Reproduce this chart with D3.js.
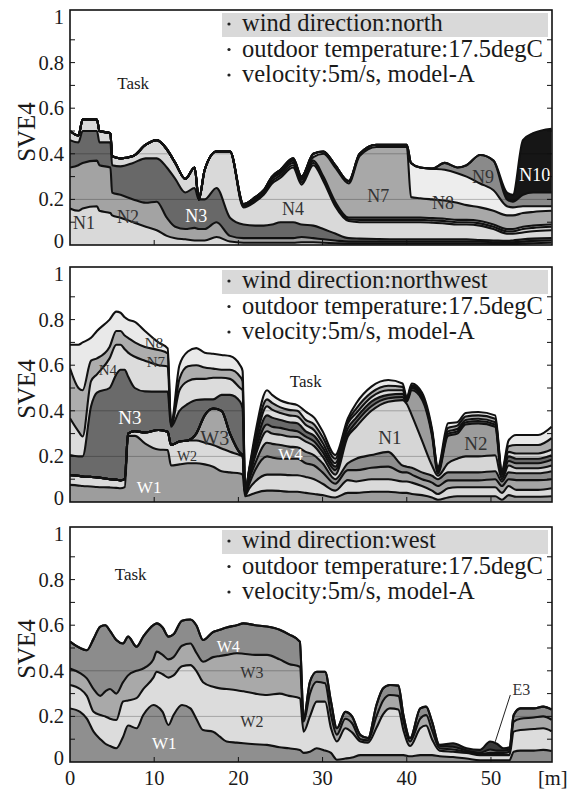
<!DOCTYPE html>
<html>
<head>
<meta charset="utf-8">
<script src="https://cdn.jsdelivr.net/npm/d3@7"></script>
<style>
  html, body { margin: 0; padding: 0; background: #fff; }
  svg { display: block; }
</style>
</head>
<body>
<svg id="chart" width="576" height="792"></svg>
<script>
// ---------- axis ticks ----------
const xTickValues = [0, 10, 20, 30, 40, 50];
const xTickLabels = ["0", "10", "20", "30", "40", "50"];
const yTickValues = [0, 0.2, 0.4, 0.6, 0.8, 1];
const yTickLabels = ["0", "0.2", "0.4", "0.6", "0.8", "1"];

// ---------- panel 1 : wind direction north (cumulative upper edge of each layer) ----------
const northNames = ["N1", "N2", "N3", "N4", "N5", "N6", "N7", "N8", "N9", "N10"];
const northX = [0, 1, 1.5, 3.2, 3.5, 4.8, 5.0, 6, 7.5, 9,
  10.3, 11.5, 12.5, 13.7, 14.8, 15.3, 16, 17.4, 19, 20.6,
  22, 23, 24, 25, 26.5, 27.5, 28.9, 30.1, 31.5, 33.1,
  34.4, 36.4, 38, 40.0, 40.5, 41.6, 43, 44.5, 46, 47.1,
  48.7, 50.3, 51.9, 52.6, 53.8, 55, 57.2];
const northN1 = [.16, .15, .16, .17, .15, .14, .13, .12, .10, .08,
  .065, .04, .03, .025, .02, .02, .02, .035, .015, .01,
  .01, .01, .01, .01, .01, .012, .012, .01, .008, .006,
  .006, .006, .006, .006, .006, .006, .006, .006, .006, .006,
  .006, .005, .005, .005, .006, .008, .01];
const northN2 = [.34, .35, .36, .37, .35, .34, .23, .22, .20, .185,
  .19, .12, .08, .07, .075, .07, .07, .10, .04, .03,
  .03, .03, .03, .03, .03, .035, .03, .025, .02, .015,
  .015, .015, .015, .015, .015, .015, .015, .015, .015, .015,
  .015, .012, .01, .012, .015, .018, .02];
const northN3 = [.46, .45, .50, .50, .45, .45, .35, .345, .36, .38,
  .38, .34, .29, .23, .25, .20, .20, .25, .12, .09,
  .085, .085, .09, .10, .10, .09, .085, .07, .05, .03,
  .028, .026, .025, .025, .025, .025, .025, .025, .025, .025,
  .022, .02, .018, .02, .025, .028, .03];
const northN4 = [.50, .48, .55, .55, .50, .49, .39, .38, .39, .44,
  .46, .42, .36, .29, .34, .20, .33, .41, .41, .165,
  .19, .22, .27, .295, .34, .265, .35, .28, .17, .105,
  .10, .10, .10, .10, .10, .10, .098, .095, .09, .09,
  .085, .07, .05, .05, .055, .06, .065];
const northN5 = [.50, .48, .55, .55, .50, .49, .39, .38, .39, .44,
  .46, .42, .36, .29, .34, .20, .33, .41, .41, .17,
  .197, .227, .28, .305, .35, .275, .36, .29, .18, .112,
  .11, .11, .11, .11, .11, .11, .108, .105, .10, .10,
  .095, .08, .06, .06, .07, .075, .08];
const northN6 = [.50, .48, .55, .55, .50, .49, .39, .38, .39, .44,
  .46, .42, .36, .29, .34, .20, .33, .41, .41, .175,
  .203, .233, .29, .315, .36, .285, .37, .30, .19, .12,
  .12, .12, .12, .12, .12, .12, .118, .115, .11, .11,
  .105, .09, .07, .07, .08, .085, .09];
const northN7 = [.50, .48, .55, .55, .50, .49, .39, .38, .39, .44,
  .46, .42, .36, .29, .34, .20, .33, .41, .41, .178,
  .207, .237, .296, .322, .37, .292, .385, .40, .34, .27,
  .39, .43, .43, .43, .21, .205, .20, .195, .185, .175,
  .165, .15, .13, .13, .14, .145, .15];
const northN8 = [.50, .48, .55, .55, .50, .49, .39, .38, .39, .44,
  .46, .42, .36, .29, .34, .20, .33, .41, .41, .18,
  .21, .24, .30, .33, .38, .30, .40, .41, .35, .28,
  .40, .44, .44, .44, .36, .34, .335, .33, .315, .30,
  .27, .24, .17, .165, .17, .17, .17];
const northN9 = [.50, .48, .55, .55, .50, .49, .39, .38, .39, .44,
  .46, .42, .36, .29, .34, .20, .33, .41, .41, .18,
  .21, .24, .30, .33, .38, .30, .40, .41, .35, .28,
  .40, .44, .44, .44, .36, .34, .335, .36, .34, .35,
  .395, .37, .20, .19, .22, .23, .23];
const northN10 = [.50, .48, .55, .55, .50, .49, .39, .38, .39, .44,
  .46, .42, .36, .29, .34, .20, .33, .41, .41, .18,
  .21, .24, .30, .33, .38, .30, .40, .41, .35, .28,
  .40, .44, .44, .44, .36, .34, .335, .36, .34, .35,
  .395, .37, .23, .22, .46, .49, .51];

// ---------- panel 2 : wind direction northwest ----------
const nwNames = ["W1", "W2", "W3", "W4", "N1", "N2", "N3", "N4", "N7", "N8"];
const nwX = [0, 1, 1.5, 2.5, 3.2, 4.7, 5.5, 6.0, 6.5, 6.9,
  7.7, 8.9, 10.5, 11.6, 12.0, 13.0, 14.0, 15.0, 16.0, 17.0,
  18.0, 19.0, 20.2, 20.5, 20.8, 21.3, 22, 23.4, 24, 25,
  26, 27, 28, 29, 30, 31.5, 33, 34, 35.8, 37.8,
  39.5, 40, 40.6, 41.8, 43, 43.7, 44.9, 46, 47, 48.5,
  50.5, 51.3, 52.1, 53, 55.6, 57.2];
const nwW1 = [.075, .072, .07, .068, .066, .064, .062, .06, .065, .29,
  .29, .257, .23, .228, .16, .165, .17, .17, .165, .155,
  .135, .13, .125, .12, .025, .03, .04, .05, .05, .048,
  .045, .045, .04, .035, .03, .02, .04, .04, .045, .045,
  .04, .04, .035, .03, .02, .01, .02, .025, .025, .025,
  .025, .01, .03, .023, .023, .025];
const nwW2 = [.118, .115, .112, .11, .108, .10, .098, .095, .10, .30,
  .31, .305, .316, .308, .25, .265, .27, .27, .26, .25,
  .235, .22, .205, .20, .03, .06, .09, .12, .12, .12,
  .118, .117, .11, .10, .08, .05, .096, .09, .10, .10,
  .09, .09, .085, .07, .05, .035, .06, .065, .065, .065,
  .065, .04, .07, .053, .053, .06];
const nwW3 = [.118, .115, .112, .11, .108, .10, .098, .095, .10, .30,
  .31, .305, .316, .308, .25, .265, .27, .30, .38, .41,
  .40, .30, .215, .205, .033, .08, .14, .20, .195, .19,
  .19, .19, .17, .16, .13, .08, .14, .14, .15, .155,
  .13, .13, .12, .10, .085, .07, .095, .095, .095, .095,
  .10, .07, .10, .096, .096, .10];
const nwW4 = [.118, .115, .112, .11, .108, .10, .098, .095, .10, .30,
  .31, .305, .316, .308, .25, .265, .27, .30, .38, .41,
  .40, .30, .215, .205, .036, .10, .17, .26, .255, .25,
  .243, .24, .22, .205, .17, .10, .17, .19, .206, .22,
  .16, .155, .15, .13, .115, .10, .13, .13, .13, .13,
  .135, .09, .13, .126, .126, .135];
const nwN1 = [.118, .115, .112, .11, .108, .10, .098, .095, .10, .30,
  .31, .305, .316, .308, .25, .265, .27, .30, .38, .41,
  .40, .30, .215, .205, .038, .11, .20, .31, .30, .295,
  .287, .285, .265, .245, .20, .12, .287, .33, .40, .44,
  .447, .43, .38, .27, .16, .115, .17, .19, .20, .20,
  .205, .10, .16, .148, .148, .16];
const nwN2 = [.118, .115, .112, .11, .108, .10, .098, .095, .10, .30,
  .31, .305, .316, .308, .25, .265, .27, .30, .38, .41,
  .40, .30, .215, .205, .04, .12, .22, .34, .33, .325,
  .316, .31, .287, .265, .22, .14, .30, .35, .42, .455,
  .46, .44, .49, .45, .29, .125, .29, .30, .34, .345,
  .33, .11, .18, .17, .17, .185];
const nwN3 = [.206, .20, .20, .42, .48, .50, .56, .58, .58, .55,
  .50, .485, .484, .484, .33, .40, .43, .447, .45, .45,
  .47, .47, .44, .41, .042, .13, .24, .38, .37, .36,
  .35, .345, .31, .29, .24, .155, .323, .37, .44, .47,
  .475, .445, .50, .46, .30, .133, .30, .31, .35, .355,
  .34, .12, .20, .19, .19, .205];
const nwN4 = [.367, .31, .287, .53, .56, .63, .69, .69, .67, .655,
  .637, .62, .60, .594, .335, .49, .53, .54, .54, .545,
  .545, .54, .50, .49, .044, .14, .26, .42, .405, .39,
  .38, .375, .338, .315, .26, .17, .345, .39, .46, .49,
  .49, .45, .505, .465, .305, .14, .31, .32, .36, .365,
  .35, .128, .22, .213, .213, .23];
const nwN7 = [.586, .50, .49, .62, .63, .68, .75, .75, .73, .72,
  .70, .68, .667, .652, .34, .54, .595, .60, .59, .585,
  .58, .58, .55, .53, .046, .145, .28, .45, .435, .415,
  .404, .40, .36, .34, .285, .19, .355, .41, .48, .51,
  .505, .455, .512, .47, .31, .148, .325, .335, .375, .38,
  .365, .135, .245, .25, .25, .28];
const nwN8 = [.69, .69, .70, .72, .75, .80, .835, .83, .81, .80,
  .79, .75, .70, .674, .345, .60, .66, .675, .655, .65,
  .645, .64, .60, .575, .048, .15, .30, .49, .47, .445,
  .433, .425, .396, .37, .31, .206, .367, .433, .506, .535,
  .52, .46, .52, .48, .32, .155, .345, .35, .39, .395,
  .38, .14, .27, .294, .294, .33];

// ---------- panel 3 : wind direction west ----------
const westNames = ["W1", "W2", "W3", "W4", "E3"];
const westX = [0, 1.2, 2, 2.8, 3.6, 4.2, 4.75, 5.5, 6.3, 6.9,
  7.9, 8.7, 9.9, 10.3, 11.0, 11.7, 12.3, 13.3, 14.3, 15.0,
  15.8, 17.0, 17.8, 18.6, 19.8, 20.6, 22, 23.4, 24.9, 26,
  27.3, 27.75, 28.5, 29.3, 30.3, 31.0, 31.7, 32.7, 33.5, 34.5,
  35.4, 36.4, 37.2, 38, 39, 39.6, 40.4, 41.6, 42.3, 43.0,
  43.9, 45.5, 47.1, 48.7, 49.9, 50.7, 51.5, 52.2, 52.7, 53.5,
  55.1, 56.2, 57.2];
const westW1 = [.235, .22, .19, .133, .10, .08, .07, .06, .11, .16,
  .148, .206, .25, .245, .22, .162, .206, .25, .235, .19,
  .14, .133, .111, .09, .085, .082, .078, .075, .065, .06,
  .053, .04, .045, .06, .05, .04, .01, .015, .02, .03,
  .03, .03, .03, .03, .03, .03, .025, .03, .03, .03,
  .025, .022, .015, .008, .008, .008, .008, .008, .045, .05,
  .05, .053, .048];
const westW2 = [.338, .32, .29, .22, .206, .20, .19, .184, .265, .27,
  .28, .32, .37, .396, .385, .37, .38, .42, .425, .40,
  .35, .33, .323, .32, .315, .31, .30, .294, .30, .29,
  .28, .133, .20, .265, .265, .148, .09, .148, .13, .09,
  .085, .15, .21, .235, .23, .14, .07, .148, .16, .10,
  .05, .045, .04, .03, .03, .03, .03, .03, .133, .14,
  .145, .148, .135];
const westW3 = [.41, .39, .367, .32, .29, .31, .32, .30, .35, .38,
  .40, .41, .45, .484, .47, .45, .46, .51, .52, .48,
  .44, .46, .465, .47, .477, .475, .47, .47, .45, .43,
  .418, .177, .30, .352, .345, .206, .12, .19, .17, .10,
  .095, .20, .27, .294, .29, .18, .09, .19, .206, .14,
  .06, .055, .045, .035, .04, .04, .04, .045, .177, .19,
  .195, .20, .185];
const westW4 = [.528, .50, .49, .54, .594, .60, .575, .535, .52, .55,
  .506, .55, .60, .608, .59, .55, .56, .62, .625, .60,
  .535, .57, .58, .59, .60, .608, .60, .594, .58, .56,
  .528, .19, .352, .396, .396, .265, .148, .22, .20, .118,
  .105, .25, .323, .338, .335, .206, .104, .235, .243, .177,
  .07, .067, .05, .04, .055, .05, .05, .055, .206, .235,
  .235, .243, .23];
const westE3 = [.528, .50, .49, .54, .594, .60, .575, .535, .52, .55,
  .506, .55, .60, .608, .59, .55, .56, .62, .625, .60,
  .535, .57, .58, .59, .60, .608, .60, .594, .58, .56,
  .528, .19, .352, .396, .396, .265, .148, .22, .20, .118,
  .105, .25, .323, .338, .335, .206, .104, .235, .243, .177,
  .075, .082, .06, .053, .09, .08, .06, .065, .206, .235,
  .235, .243, .23];

// ---------- panel configuration (layout and style) ----------
const panels = [
  {
    top: 10, bottom: 245, xs: northX,
    series: [northN1, northN2, northN3, northN4, northN5, northN6, northN7, northN8, northN9, northN10],
    names: northNames,
    fills: ["#d9d9d9", "#a3a3a3", "#686868", "#d9d9d9", "#cfcfcf", "#dedede", "#a8a8a8", "#ededed", "#8a8a8a", "#161616"],
    legend: "wind direction:north",
    task: [7.5, 0.71],
    labels: [
      {t: "N1", m: 1.66, v: 0.10, c: "#333", s: 18},
      {t: "N2", m: 6.9, v: 0.123, c: "#333", s: 18},
      {t: "N3", m: 15.0, v: 0.127, c: "#fff", s: 18},
      {t: "N4", m: 26.5, v: 0.158, c: "#333", s: 18},
      {t: "N7", m: 36.6, v: 0.215, c: "#333", s: 18},
      {t: "N8", m: 44.3, v: 0.184, c: "#333", s: 18},
      {t: "N9", m: 49.05, v: 0.298, c: "#333", s: 18},
      {t: "N10", m: 55.2, v: 0.307, c: "#fff", s: 18}
    ]
  },
  {
    top: 267, bottom: 502, xs: nwX,
    series: [nwW1, nwW2, nwW3, nwW4, nwN1, nwN2, nwN3, nwN4, nwN7, nwN8],
    names: nwNames,
    fills: ["#9d9d9d", "#dadada", "#a5a5a5", "#8e8e8e", "#d6d6d6", "#9c9c9c", "#6a6a6a", "#dcdcdc", "#adadad", "#e9e9e9"],
    legend: "wind direction:northwest",
    task: [28.0, 0.53],
    labels: [
      {t: "N8", m: 9.98, v: 0.697, c: "#333", s: 15},
      {t: "N7", m: 10.2, v: 0.614, c: "#333", s: 15},
      {t: "N4", m: 4.5, v: 0.579, c: "#333", s: 15},
      {t: "N3", m: 7.1, v: 0.373, c: "#fff", s: 19},
      {t: "W3", m: 17.2, v: 0.281, c: "#333", s: 20},
      {t: "W2", m: 13.9, v: 0.202, c: "#333", s: 14},
      {t: "W1", m: 9.4, v: 0.066, c: "#fff", s: 17},
      {t: "W4", m: 26.2, v: 0.21, c: "#fff", s: 17},
      {t: "N1", m: 38.0, v: 0.285, c: "#333", s: 19},
      {t: "N2", m: 48.2, v: 0.259, c: "#333", s: 19}
    ]
  },
  {
    top: 527, bottom: 762, xs: westX,
    series: [westW1, westW2, westW3, westW4, westE3],
    names: westNames,
    fills: ["#8f8f8f", "#dcdcdc", "#a9a9a9", "#8c8c8c", "#3a3a3a"],
    legend: "wind direction:west",
    task: [7.2, 0.825],
    labels: [
      {t: "W4", m: 18.8, v: 0.509, c: "#fff", s: 16},
      {t: "W3", m: 21.6, v: 0.395, c: "#333", s: 16},
      {t: "W2", m: 21.6, v: 0.18, c: "#333", s: 16},
      {t: "W1", m: 11.2, v: 0.083, c: "#fff", s: 17},
      {t: "E3", m: 53.6, v: 0.32, c: "#333", s: 16}
    ],
    leader: [[52.3, 0.294], [50.5, 0.088]]
  }
];

// ---------- drawing ----------
const SERIF = "'Liberation Serif', 'Times New Roman', Times, 'DejaVu Serif', serif";
const svg = d3.select("#chart");
const defs = svg.append("defs");
const plotL = 70, plotR = 552;
const x = d3.scaleLinear().domain([0, 57.25]).range([plotL, plotR]);

function addText(sel, str, size) {
  return sel.append("text")
    .attr("font-family", SERIF)
    .style("font-family", SERIF)
    .attr("font-size", size)
    .attr("fill", "#1a1a1a")
    .text(str);
}

panels.forEach((p, pi) => {
  const y = d3.scaleLinear().domain([0, 1]).range([p.bottom, p.bottom - 228]);
  const g = svg.append("g");
  const clipId = "clip" + pi;
  defs.append("clipPath").attr("id", clipId).append("rect")
    .attr("x", plotL).attr("y", p.top).attr("width", plotR - plotL).attr("height", p.bottom - p.top);

  const pts = p.xs.map((m, k) => ({m: m, vals: p.series.map(s => s[k])}));
  const n = p.series.length;
  const plot = g.append("g").attr("clip-path", `url(#${clipId})`);

  // filled layers
  p.series.forEach((s, i) => {
    const area = d3.area().curve(d3.curveMonotoneX)
      .x(d => x(d.m))
      .y0(d => y(i === 0 ? 0 : d.vals[i - 1]))
      .y1(d => y(d.vals[i]));
    plot.append("path").datum(pts).attr("d", area).attr("fill", p.fills[i]);
  });

  // faint grid lines only inside the filled region
  const gclipId = "gclip" + pi;
  const total = d3.area().curve(d3.curveMonotoneX)
    .x(d => x(d.m)).y0(y(0)).y1(d => y(d.vals[n - 1]));
  defs.append("clipPath").attr("id", gclipId).append("path").datum(pts).attr("d", total);
  const grid = plot.append("g").attr("clip-path", `url(#${gclipId})`);
  [0.2, 0.4].forEach(v => {
    grid.append("line").attr("x1", plotL).attr("x2", plotR)
      .attr("y1", y(v)).attr("y2", y(v))
      .attr("stroke", "#000").attr("stroke-opacity", 0.28).attr("stroke-width", 0.9);
  });

  // boundary lines
  p.series.forEach((s, i) => {
    const line = d3.line().curve(d3.curveMonotoneX)
      .x(d => x(d.m)).y(d => y(d.vals[i]));
    plot.append("path").datum(pts).attr("d", line)
      .attr("fill", "none").attr("stroke", "#111").attr("stroke-width", 2.1)
      .attr("stroke-linejoin", "round");
  });

  // legend block
  g.append("rect").attr("x", 222).attr("y", p.top + 3).attr("width", 326).attr("height", 24)
    .attr("fill", "#d9d9d9");
  const legendLines = [p.legend, "outdoor temperature:17.5degC", "velocity:5m/s, model-A"];
  legendLines.forEach((t, li) => {
    const by = p.top + 21 + li * 25.5;
    g.append("circle").attr("cx", 229).attr("cy", by - 7).attr("r", 1.6).attr("fill", "#222");
    addText(g, t, 24.5).attr("x", 242).attr("y", by);
  });

  // Task label
  addText(g, "Task", 17).attr("x", x(p.task[0])).attr("y", y(p.task[1]) + 6)
    .attr("text-anchor", "middle");

  // series labels
  p.labels.forEach(l => {
    addText(g, l.t, l.s).attr("x", x(l.m)).attr("y", y(l.v) + l.s * 0.35)
      .attr("text-anchor", "middle").attr("fill", l.c);
  });
  if (p.leader) {
    g.append("line")
      .attr("x1", x(p.leader[0][0])).attr("y1", y(p.leader[0][1]))
      .attr("x2", x(p.leader[1][0])).attr("y2", y(p.leader[1][1]))
      .attr("stroke", "#222").attr("stroke-width", 1);
  }

  // frame
  g.append("rect").attr("x", plotL).attr("y", p.top).attr("width", plotR - plotL)
    .attr("height", p.bottom - p.top).attr("fill", "none").attr("stroke", "#111").attr("stroke-width", 1.6);

  // y ticks (inside, both sides)
  d3.range(1, 10).map(k => k / 10).forEach(v => {
    g.append("line").attr("x1", plotL).attr("x2", plotL + 5).attr("y1", y(v)).attr("y2", y(v))
      .attr("stroke", "#111").attr("stroke-width", 1);
    g.append("line").attr("x1", plotR - 5).attr("x2", plotR).attr("y1", y(v)).attr("y2", y(v))
      .attr("stroke", "#111").attr("stroke-width", 1);
  });
  // x ticks
  xTickValues.slice(1).forEach(v => {
    g.append("line").attr("x1", x(v)).attr("x2", x(v)).attr("y1", p.bottom).attr("y2", p.bottom - 5)
      .attr("stroke", "#111").attr("stroke-width", 1);
  });

  // y tick labels
  yTickValues.forEach((v, k) => {
    addText(g, yTickLabels[k], 20.5).attr("x", 64).attr("y", y(v) + 7 - (v === 0 ? 4 : 0))
      .attr("text-anchor", "end");
  });

  // y axis title
  const cy = p.bottom - 113;
  addText(g, "SVE4", 25).attr("transform", `translate(35,${cy}) rotate(-90)`)
    .attr("text-anchor", "middle");

  // x tick labels only on the last panel
  if (pi === panels.length - 1) {
    xTickValues.forEach((v, k) => {
      addText(g, xTickLabels[k], 20.5).attr("x", x(v)).attr("y", 785).attr("text-anchor", "middle");
    });
    addText(g, "[m]", 20.5).attr("x", 538).attr("y", 785);
  }
});
</script>
</body>
</html>
